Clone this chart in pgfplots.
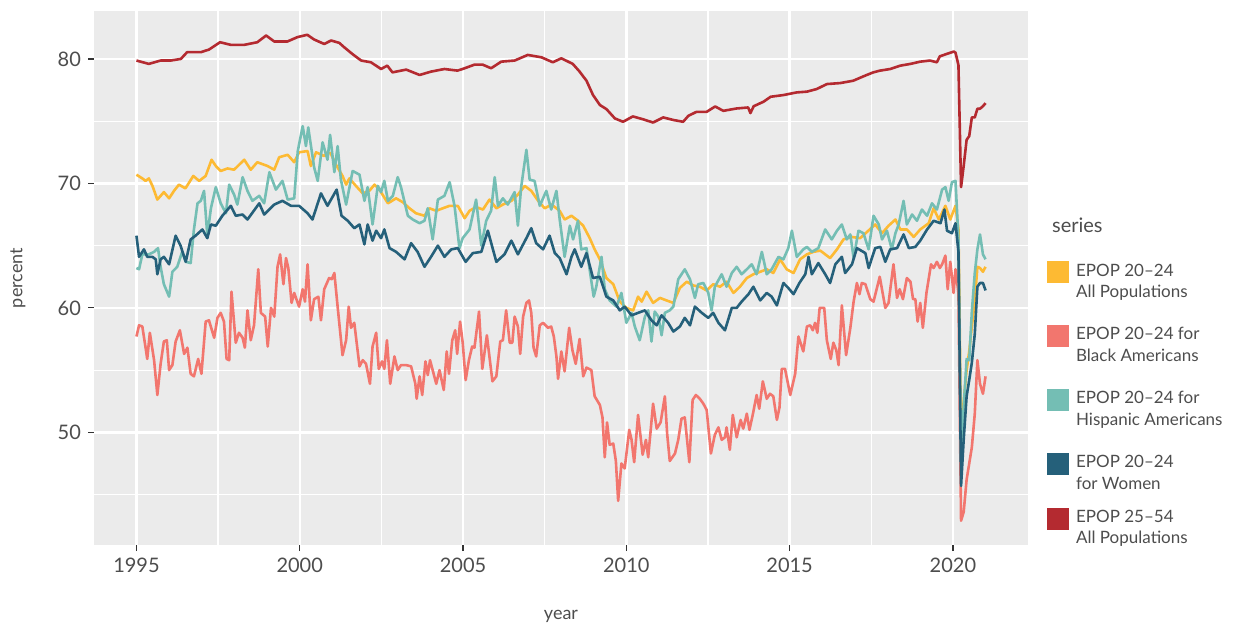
\documentclass[border=0pt]{standalone}
\usepackage{pgfplots}
\pgfplotsset{compat=1.18}
\usepackage{fontspec}
\setmainfont{Lato}
\definecolor{cyel}{HTML}{FDBA33}
\definecolor{csal}{HTML}{F2766E}
\definecolor{cteal}{HTML}{74BEB4}
\definecolor{cblue}{HTML}{25607A}
\definecolor{cred}{HTML}{B42A30}
\definecolor{panel}{HTML}{EBEBEB}
\definecolor{txt}{HTML}{4D4D4D}
\newcommand{\legtwo}[2]{\begin{tabular}[t]{@{}l@{}}#1\\#2\end{tabular}}
\pgfplotsset{
  keybig/.style={legend image code/.code={\fill[draw=none] (0pt,-3.5pt) rectangle (11pt,7.5pt);\path[draw=none,fill=none] (0pt,-18.35pt) rectangle (0.01pt,7.5pt);}},
  keysmall/.style={legend image code/.code={\fill[draw=none] (0pt,-3.5pt) rectangle (11pt,7.5pt);\path[draw=none,fill=none] (0pt,-13.85pt) rectangle (0.01pt,7.5pt);}},
}
\begin{document}
\begin{tikzpicture}
\begin{axis}[
  scale only axis, width=467pt, height=267pt,
  xmin=1993.7, xmax=2022.3, ymin=40.95, ymax=83.85,
  clip mode=individual,
  axis background/.style={fill=panel},
  axis line style={draw=none},
  xtick={1995,2000,2005,2010,2015,2020}, ytick={50,60,70,80},
  minor xtick={1997.5,2002.5,2007.5,2012.5,2017.5},
  minor ytick={45,55,65,75},
  grid=both,
  major grid style={white, line width=1.2pt},
  minor grid style={white, line width=0.6pt},
  tick align=outside, tick pos=left,
  major tick length=3pt, minor tick length=0pt,
  tick style={color=black!80, line width=0.6pt},
  ticklabel style={font=\fontsize{10}{12}\selectfont, text=txt},
  /pgf/number format/assume math mode=true,
  /pgf/number format/1000 sep={},
  xlabel={year}, ylabel={percent},
  label style={font=\fontsize{9}{11}\selectfont, text=txt},
  xlabel style={at={(axis description cs:0.5,-0.133)}, anchor=center},
  ylabel style={at={(axis description cs:-0.0814,0.5)}, anchor=center},
  legend style={draw=none, fill=none, at={(rel axis cs:1,0.5318)}, anchor=north west,
    xshift=9.35pt, inner sep=0pt, outer sep=0pt, row sep=6.1pt, column sep=3.7pt,
    font=\fontsize{8.5}{10.65}\selectfont, text=txt,
    nodes={inner sep=0pt, anchor=base west}},
  every axis plot/.append style={line width=1.3pt, line join=round},
]
\addplot[color=cyel, keybig] coordinates {(1995.00,70.7)(1995.18,70.4)(1995.28,70.2)(1995.38,70.4)(1995.49,69.8)(1995.64,68.7)(1995.84,69.3)(1996.00,68.8)(1996.15,69.4)(1996.30,69.9)(1996.50,69.6)(1996.74,70.6)(1996.92,70.2)(1997.12,70.6)(1997.30,71.9)(1997.43,71.4)(1997.58,71.0)(1997.79,71.2)(1997.99,71.1)(1998.30,71.9)(1998.50,71.1)(1998.70,71.7)(1999.01,71.4)(1999.22,71.1)(1999.37,72.1)(1999.63,72.3)(1999.83,71.7)(1999.98,72.5)(2000.24,72.6)(2000.34,71.4)(2000.50,72.5)(2000.75,72.2)(2000.85,72.5)(2000.95,72.4)(2001.11,71.5)(2001.31,70.6)(2001.42,69.9)(2001.52,70.4)(2001.72,69.8)(2001.93,69.2)(2002.13,69.4)(2002.29,69.9)(2002.44,69.5)(2002.70,68.4)(2002.95,68.8)(2003.15,68.5)(2003.36,68.0)(2003.56,67.6)(2003.82,67.4)(2003.97,68.0)(2004.18,67.8)(2004.38,68.0)(2004.59,68.2)(2004.84,68.2)(2005.05,67.2)(2005.20,67.8)(2005.40,68.1)(2005.61,67.9)(2005.81,68.7)(2006.02,68.0)(2006.22,68.3)(2006.48,68.6)(2006.68,69.1)(2006.89,69.8)(2007.09,69.4)(2007.30,68.6)(2007.50,68.0)(2007.71,68.3)(2007.96,67.8)(2008.11,67.1)(2008.32,67.4)(2008.52,67.0)(2008.68,66.6)(2008.88,65.6)(2009.03,64.7)(2009.19,63.9)(2009.39,62.4)(2009.60,61.9)(2009.80,60.5)(2010.00,60.0)(2010.21,59.8)(2010.36,60.9)(2010.47,60.5)(2010.62,61.3)(2010.82,60.4)(2011.03,60.8)(2011.23,60.6)(2011.44,60.4)(2011.64,61.6)(2011.85,62.1)(2012.05,61.8)(2012.25,61.7)(2012.46,61.4)(2012.66,61.9)(2012.87,61.7)(2013.07,62.1)(2013.28,61.2)(2013.48,61.7)(2013.69,62.4)(2013.89,62.7)(2014.10,62.9)(2014.30,63.1)(2014.50,62.8)(2014.71,63.9)(2014.91,63.1)(2015.12,62.8)(2015.32,63.9)(2015.53,64.3)(2015.73,64.5)(2015.94,64.6)(2016.24,64.0)(2016.45,64.7)(2016.65,65.5)(2016.90,65.7)(2017.16,65.6)(2017.37,66.1)(2017.62,66.7)(2017.83,66.0)(2018.03,66.6)(2018.24,67.1)(2018.39,66.3)(2018.59,66.3)(2018.80,65.7)(2019.00,66.3)(2019.26,66.8)(2019.41,68.0)(2019.57,67.1)(2019.77,68.2)(2019.92,67.1)(2020.08,68.2)(2020.17,66.3)(2020.25,49.6)(2020.33,52.5)(2020.42,55.0)(2020.50,56.5)(2020.58,58.5)(2020.67,60.5)(2020.75,63.3)(2020.83,63.2)(2020.92,62.9)(2021.00,63.3)};
\addlegendentry{\legtwo{EPOP 20–24}{All Populations}}
\addplot[color=csal, keybig] coordinates {(1995.00,57.7)(1995.08,58.6)(1995.18,58.5)(1995.28,56.8)(1995.33,55.9)(1995.41,58.0)(1995.54,55.8)(1995.64,53.0)(1995.74,55.5)(1995.84,57.3)(1995.93,57.4)(1996.00,55.0)(1996.10,55.4)(1996.20,57.3)(1996.33,58.2)(1996.46,56.3)(1996.56,56.8)(1996.66,54.7)(1996.76,54.5)(1996.89,55.9)(1996.99,54.7)(1997.12,58.9)(1997.22,59.0)(1997.38,57.6)(1997.48,59.2)(1997.58,59.6)(1997.68,58.9)(1997.76,55.9)(1997.84,55.8)(1997.91,61.3)(1998.04,57.2)(1998.14,58.0)(1998.25,57.6)(1998.32,56.8)(1998.40,59.8)(1998.50,57.4)(1998.60,58.6)(1998.73,63.1)(1998.81,59.6)(1998.94,59.3)(1999.02,56.9)(1999.12,60.0)(1999.22,59.3)(1999.32,63.3)(1999.40,64.3)(1999.50,61.9)(1999.58,64.0)(1999.65,63.2)(1999.75,60.4)(1999.83,61.2)(1999.98,60.1)(2000.09,61.5)(2000.16,60.5)(2000.24,63.5)(2000.34,59.0)(2000.44,60.7)(2000.57,60.9)(2000.65,59.0)(2000.75,61.5)(2000.90,62.4)(2000.98,62.3)(2001.06,62.8)(2001.16,60.1)(2001.21,58.8)(2001.31,56.2)(2001.42,57.4)(2001.50,60.1)(2001.57,58.4)(2001.67,58.8)(2001.83,55.3)(2001.93,55.8)(2002.03,55.5)(2002.15,53.9)(2002.23,56.9)(2002.34,58.0)(2002.42,55.1)(2002.52,55.7)(2002.59,55.1)(2002.67,57.4)(2002.77,53.9)(2002.90,56.1)(2003.00,55.0)(2003.10,55.4)(2003.26,55.4)(2003.41,55.3)(2003.54,53.9)(2003.58,52.7)(2003.67,54.5)(2003.75,53.0)(2003.85,55.7)(2003.92,54.6)(2003.99,55.8)(2004.07,55.0)(2004.18,53.9)(2004.28,55.0)(2004.41,53.4)(2004.50,56.5)(2004.57,54.7)(2004.67,57.4)(2004.76,58.2)(2004.82,56.3)(2004.91,58.9)(2004.99,57.2)(2005.08,54.2)(2005.18,55.8)(2005.28,56.9)(2005.35,56.8)(2005.49,59.7)(2005.59,55.1)(2005.73,57.8)(2005.90,54.1)(2006.02,54.5)(2006.14,57.3)(2006.22,57.4)(2006.32,59.8)(2006.43,57.2)(2006.51,57.2)(2006.58,59.3)(2006.68,58.5)(2006.75,56.3)(2006.84,59.3)(2006.94,60.4)(2007.02,60.6)(2007.09,59.6)(2007.16,56.8)(2007.24,56.1)(2007.35,58.6)(2007.45,58.8)(2007.60,58.4)(2007.70,58.5)(2007.78,57.7)(2007.86,56.1)(2007.91,54.3)(2008.01,56.5)(2008.11,54.9)(2008.25,58.4)(2008.35,56.6)(2008.45,55.5)(2008.57,57.5)(2008.68,54.5)(2008.78,55.2)(2008.93,55.0)(2009.03,52.9)(2009.19,52.2)(2009.27,51.2)(2009.34,48.0)(2009.41,50.8)(2009.49,49.0)(2009.60,49.1)(2009.68,47.7)(2009.75,44.5)(2009.85,47.5)(2009.95,47.1)(2010.09,50.2)(2010.16,49.4)(2010.24,47.6)(2010.36,51.4)(2010.50,48.2)(2010.60,49.4)(2010.67,48.0)(2010.82,52.3)(2010.93,50.3)(2011.05,50.8)(2011.18,52.9)(2011.25,49.9)(2011.33,47.7)(2011.49,48.3)(2011.59,49.4)(2011.69,51.1)(2011.79,51.2)(2011.93,47.6)(2012.03,52.6)(2012.13,53.0)(2012.25,52.7)(2012.36,52.3)(2012.46,51.8)(2012.59,48.3)(2012.71,49.8)(2012.82,50.4)(2012.92,49.4)(2013.02,49.6)(2013.07,50.4)(2013.17,48.6)(2013.26,51.4)(2013.38,49.6)(2013.50,51.0)(2013.58,50.3)(2013.69,51.5)(2013.77,50.2)(2013.87,51.4)(2013.99,53.0)(2014.07,51.9)(2014.18,54.1)(2014.30,52.7)(2014.40,53.1)(2014.50,52.9)(2014.61,51.0)(2014.69,52.0)(2014.76,55.1)(2014.86,55.1)(2015.02,53.0)(2015.17,54.7)(2015.27,57.7)(2015.42,56.5)(2015.53,58.5)(2015.63,58.6)(2015.71,58.2)(2015.78,58.8)(2015.85,58.0)(2015.92,60.0)(2016.06,60.0)(2016.14,57.4)(2016.26,55.9)(2016.34,57.2)(2016.43,56.6)(2016.50,55.4)(2016.60,60.2)(2016.73,56.2)(2016.86,58.4)(2016.96,60.5)(2017.06,62.0)(2017.14,61.1)(2017.21,62.0)(2017.32,61.9)(2017.47,60.7)(2017.57,60.5)(2017.76,62.5)(2017.93,60.0)(2018.03,60.4)(2018.18,63.5)(2018.29,60.8)(2018.37,61.5)(2018.47,60.7)(2018.59,62.4)(2018.70,62.1)(2018.78,60.7)(2018.85,60.7)(2018.92,58.9)(2019.00,60.4)(2019.08,58.4)(2019.19,61.2)(2019.33,63.5)(2019.41,63.2)(2019.51,63.7)(2019.60,63.2)(2019.67,63.5)(2019.77,64.2)(2019.84,61.5)(2019.92,63.7)(2019.97,62.5)(2020.02,61.2)(2020.08,63.1)(2020.17,61.2)(2020.25,42.9)(2020.33,43.6)(2020.42,46.2)(2020.50,47.5)(2020.58,48.8)(2020.67,51.5)(2020.75,55.8)(2020.83,53.9)(2020.92,53.1)(2021.00,54.5)};
\addlegendentry{\legtwo{EPOP 20–24 for}{Black Americans}}
\addplot[color=cteal, keybig] coordinates {(1995.00,63.2)(1995.08,63.1)(1995.18,64.3)(1995.38,64.3)(1995.54,64.5)(1995.66,64.8)(1995.74,63.3)(1995.84,61.9)(1996.00,60.9)(1996.10,62.9)(1996.25,63.3)(1996.40,64.5)(1996.51,63.7)(1996.66,63.6)(1996.76,66.3)(1996.87,68.4)(1996.97,68.6)(1997.07,69.4)(1997.17,65.8)(1997.28,68.0)(1997.43,69.7)(1997.58,68.4)(1997.74,67.6)(1997.84,69.9)(1997.99,69.1)(1998.09,68.3)(1998.25,70.5)(1998.40,69.4)(1998.55,68.6)(1998.76,69.0)(1998.91,68.4)(1999.07,70.9)(1999.27,69.5)(1999.47,70.2)(1999.63,68.7)(1999.83,68.8)(1999.94,72.6)(2000.09,74.6)(2000.19,73.0)(2000.26,74.5)(2000.44,71.3)(2000.55,70.2)(2000.70,73.3)(2000.85,71.9)(2000.93,73.9)(2001.06,70.9)(2001.16,73.0)(2001.26,70.3)(2001.42,68.3)(2001.62,71.0)(2001.83,70.7)(2001.98,68.6)(2002.08,69.7)(2002.23,66.7)(2002.39,69.8)(2002.49,69.3)(2002.59,70.2)(2002.70,68.6)(2002.85,69.0)(2003.00,70.5)(2003.10,69.7)(2003.31,67.4)(2003.46,67.1)(2003.67,66.8)(2003.82,67.0)(2003.92,68.0)(2004.07,65.5)(2004.23,68.7)(2004.43,69.0)(2004.59,70.1)(2004.74,68.2)(2004.89,64.8)(2004.99,65.6)(2005.20,66.3)(2005.40,68.7)(2005.56,65.0)(2005.71,67.0)(2005.86,67.8)(2005.97,70.5)(2006.07,68.2)(2006.22,68.8)(2006.37,68.3)(2006.58,69.3)(2006.68,66.6)(2006.78,69.7)(2006.94,72.7)(2007.04,70.3)(2007.19,70.2)(2007.35,68.2)(2007.55,69.4)(2007.70,67.9)(2007.86,69.4)(2007.96,67.1)(2008.11,64.1)(2008.27,66.6)(2008.37,65.5)(2008.52,67.0)(2008.62,64.7)(2008.78,64.8)(2009.00,60.9)(2009.08,61.7)(2009.24,64.1)(2009.34,61.5)(2009.49,60.6)(2009.70,60.1)(2009.85,61.2)(2010.00,58.8)(2010.16,59.6)(2010.26,58.5)(2010.41,57.4)(2010.57,59.3)(2010.67,59.8)(2010.77,57.3)(2010.87,59.7)(2010.98,59.3)(2011.08,57.8)(2011.18,59.6)(2011.33,59.8)(2011.44,60.1)(2011.59,62.3)(2011.79,63.1)(2011.95,62.3)(2012.10,60.8)(2012.20,61.9)(2012.36,62.0)(2012.51,61.2)(2012.61,59.8)(2012.71,61.7)(2012.92,62.7)(2013.07,61.7)(2013.23,62.8)(2013.38,63.3)(2013.53,62.7)(2013.69,63.1)(2013.84,63.5)(2013.99,62.7)(2014.15,64.5)(2014.30,62.7)(2014.45,63.1)(2014.66,64.1)(2014.81,63.9)(2014.96,64.8)(2015.07,66.2)(2015.22,64.1)(2015.42,64.7)(2015.53,64.9)(2015.68,64.5)(2015.88,64.8)(2016.09,66.3)(2016.29,65.5)(2016.45,66.2)(2016.60,66.7)(2016.75,65.5)(2016.86,65.9)(2016.96,64.0)(2017.11,66.2)(2017.26,66.0)(2017.42,64.7)(2017.57,67.4)(2017.73,66.7)(2017.83,65.5)(2017.98,66.2)(2018.13,64.7)(2018.24,66.0)(2018.34,66.7)(2018.49,68.6)(2018.59,66.7)(2018.75,67.5)(2018.90,67.0)(2019.05,67.9)(2019.21,67.4)(2019.36,68.4)(2019.51,67.9)(2019.67,69.5)(2019.77,69.7)(2019.87,68.6)(2019.97,70.1)(2020.08,70.2)(2020.17,65.5)(2020.25,47.5)(2020.33,52.0)(2020.42,55.9)(2020.50,55.8)(2020.58,59.7)(2020.67,62.8)(2020.75,64.7)(2020.83,65.9)(2020.92,64.3)(2021.00,63.9)};
\addlegendentry{\legtwo{EPOP 20–24 for}{Hispanic Americans}}
\addplot[color=cblue, keysmall] coordinates {(1995.00,65.8)(1995.08,64.1)(1995.23,64.7)(1995.33,64.1)(1995.49,64.1)(1995.59,63.9)(1995.64,62.7)(1995.74,63.9)(1995.84,64.1)(1996.00,63.5)(1996.20,65.8)(1996.35,65.0)(1996.51,63.7)(1996.66,65.5)(1996.81,65.8)(1997.02,66.3)(1997.17,65.6)(1997.28,66.7)(1997.43,66.6)(1997.53,67.0)(1997.63,67.4)(1997.89,68.2)(1998.04,67.4)(1998.25,67.5)(1998.40,67.1)(1998.76,68.4)(1998.91,67.5)(1999.22,68.3)(1999.47,68.6)(1999.73,68.2)(1999.98,68.2)(2000.24,67.6)(2000.39,67.1)(2000.65,69.2)(2000.85,68.2)(2001.13,69.5)(2001.28,67.4)(2001.47,67.0)(2001.67,66.4)(2001.83,66.7)(2001.98,65.1)(2002.08,66.7)(2002.23,65.4)(2002.34,66.2)(2002.49,65.6)(2002.59,66.3)(2002.75,64.8)(2002.95,64.5)(2003.21,63.9)(2003.41,65.2)(2003.61,64.5)(2003.82,63.3)(2004.02,64.1)(2004.23,65.0)(2004.43,64.1)(2004.64,64.7)(2004.84,64.8)(2005.08,63.7)(2005.30,64.4)(2005.56,64.5)(2005.76,66.2)(2006.02,63.7)(2006.27,64.3)(2006.48,65.4)(2006.68,64.3)(2006.94,65.6)(2007.09,66.4)(2007.24,65.2)(2007.45,64.7)(2007.65,65.8)(2007.81,64.4)(2007.96,64.0)(2008.17,62.7)(2008.32,64.1)(2008.42,64.7)(2008.62,63.3)(2008.78,64.4)(2008.98,62.4)(2009.19,62.5)(2009.39,60.9)(2009.60,60.6)(2009.80,59.8)(2009.95,60.1)(2010.16,59.4)(2010.36,59.6)(2010.57,59.8)(2010.77,59.0)(2010.93,58.6)(2011.08,59.4)(2011.28,58.8)(2011.44,58.1)(2011.64,58.5)(2011.79,59.2)(2011.95,58.6)(2012.10,60.1)(2012.31,59.6)(2012.51,59.2)(2012.66,59.6)(2012.82,58.8)(2013.02,58.2)(2013.23,60.0)(2013.38,60.0)(2013.53,60.5)(2013.74,61.1)(2013.89,61.7)(2014.10,60.6)(2014.30,61.2)(2014.45,60.9)(2014.61,60.2)(2014.81,62.0)(2014.96,61.6)(2015.12,61.1)(2015.30,62.0)(2015.48,62.7)(2015.58,64.1)(2015.68,62.7)(2015.88,63.6)(2016.09,62.7)(2016.24,62.0)(2016.40,63.5)(2016.60,64.1)(2016.70,62.8)(2016.91,63.5)(2017.06,64.8)(2017.32,64.4)(2017.42,63.2)(2017.62,64.8)(2017.78,64.9)(2017.93,63.7)(2018.08,64.7)(2018.29,64.8)(2018.49,65.9)(2018.65,64.8)(2018.85,64.9)(2019.00,65.4)(2019.21,66.3)(2019.41,67.0)(2019.62,66.8)(2019.74,67.9)(2019.82,66.2)(2019.97,66.0)(2020.08,66.8)(2020.17,64.5)(2020.25,45.7)(2020.33,49.4)(2020.42,52.9)(2020.50,54.2)(2020.58,55.6)(2020.67,57.9)(2020.75,61.7)(2020.83,62.0)(2020.92,62.0)(2021.00,61.4)};
\addlegendentry{\legtwo{EPOP 20–24}{for Women}}
\addplot[color=cred, keysmall] coordinates {(1995.00,79.87)(1995.38,79.6)(1995.74,79.87)(1996.05,79.87)(1996.36,80.0)(1996.55,80.54)(1996.97,80.54)(1997.22,80.75)(1997.56,81.34)(1997.89,81.13)(1998.30,81.13)(1998.70,81.34)(1998.97,81.88)(1999.22,81.4)(1999.62,81.4)(1999.93,81.75)(2000.23,81.94)(2000.44,81.56)(2000.75,81.2)(2000.96,81.48)(2001.21,81.29)(2001.36,80.94)(2001.61,80.4)(2001.88,79.87)(2002.18,79.73)(2002.49,79.19)(2002.68,79.46)(2002.84,78.92)(2003.26,79.14)(2003.67,78.71)(2004.02,78.98)(2004.43,79.19)(2004.83,79.06)(2005.05,79.25)(2005.35,79.54)(2005.60,79.54)(2005.86,79.25)(2006.17,79.78)(2006.58,79.87)(2006.98,80.32)(2007.40,80.13)(2007.75,79.73)(2008.01,80.05)(2008.36,79.6)(2008.57,78.98)(2008.78,78.25)(2008.98,77.1)(2009.19,76.3)(2009.39,75.97)(2009.65,75.22)(2009.90,74.95)(2010.20,75.38)(2010.50,75.16)(2010.82,74.89)(2011.13,75.3)(2011.43,75.1)(2011.74,74.95)(2011.90,75.43)(2012.15,75.75)(2012.46,75.75)(2012.72,76.18)(2012.97,75.83)(2013.38,76.02)(2013.73,76.1)(2013.80,75.65)(2013.90,76.2)(2014.20,76.56)(2014.42,76.96)(2014.82,77.1)(2015.22,77.31)(2015.53,77.37)(2015.83,77.58)(2016.14,77.98)(2016.55,78.06)(2016.95,78.25)(2017.26,78.6)(2017.56,78.92)(2017.77,79.06)(2018.08,79.19)(2018.39,79.46)(2018.70,79.6)(2019.00,79.78)(2019.30,79.87)(2019.51,79.73)(2019.60,80.21)(2019.90,80.48)(2020.03,80.59)(2020.08,80.5)(2020.17,79.5)(2020.25,69.7)(2020.33,71.4)(2020.42,73.5)(2020.50,73.8)(2020.58,75.3)(2020.67,75.3)(2020.75,76.0)(2020.83,76.0)(2020.92,76.2)(2021.00,76.45)};
\addlegendentry{\legtwo{EPOP 25–54}{All Populations}}
\node[anchor=base west, inner sep=0pt, font=\fontsize{10}{12}\selectfont, text=txt] at (rel axis cs:1,0.5861) [xshift=11.85pt] {series};
\end{axis}
\path (-47pt,-40.5pt) rectangle (573pt,272.5pt);
\end{tikzpicture}
\end{document}
